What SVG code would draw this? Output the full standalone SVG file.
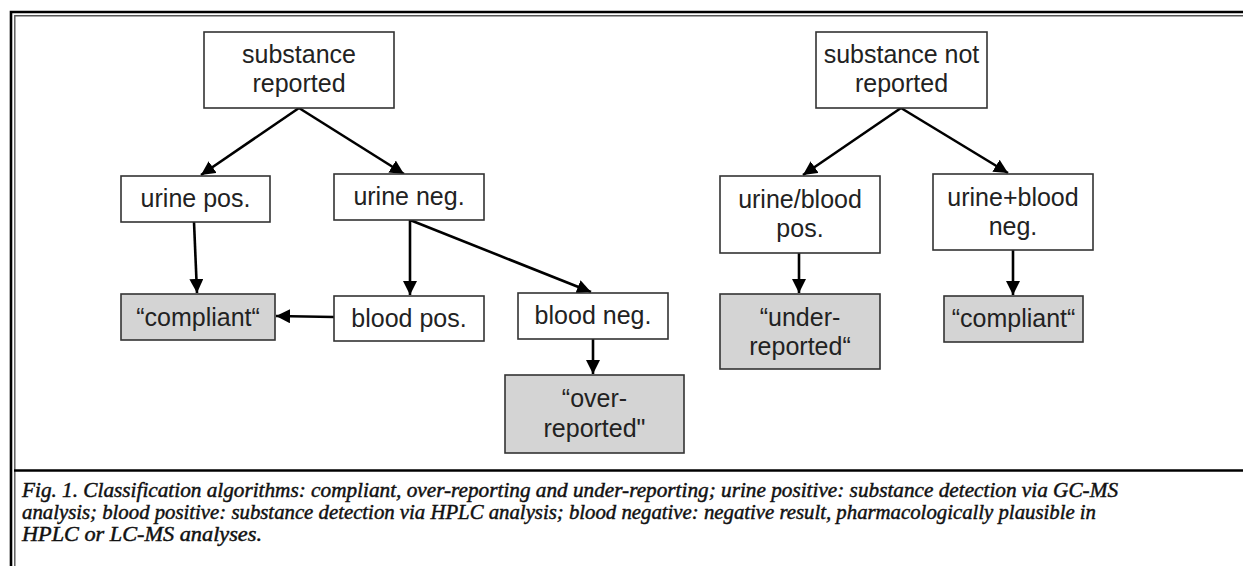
<svg xmlns="http://www.w3.org/2000/svg" width="1243" height="566" viewBox="0 0 1243 566">
<style>
.box{fill:#fff;stroke:#333;stroke-width:1.6}
.res{fill:#d4d4d4;stroke:#333;stroke-width:1.6}
.t{font-family:"Liberation Sans",Arial,sans-serif;font-size:25px;fill:#222;text-anchor:middle}
.c{stroke:#000;stroke-width:2.6;fill:none;marker-end:url(#ah)}
.cap{font-family:"Liberation Serif","Times New Roman",serif;font-style:italic;font-size:20px;fill:#111;stroke:#111;stroke-width:0.45}
</style>
<defs>
<marker id="ah" viewBox="0 0 10 10" refX="10" refY="5" markerWidth="5.4" markerHeight="5.4" orient="auto" markerUnits="strokeWidth">
<path d="M0,0 L10,5 L0,10 z" fill="#000"/>
</marker>
</defs>
<rect x="0" y="0" width="1243" height="566" fill="#fff"/>
<g id="frame" fill="none">
<path d="M11,566 V12 H1243" stroke="#000" stroke-width="2.6"/>
<path d="M14.8,566 V15.8 H1243" stroke="#555" stroke-width="1.4"/>
<path d="M14,470.5 H1243" stroke="#000" stroke-width="2.6"/>
</g>
<g id="connectors">
<line class="c" x1="299" y1="108" x2="201" y2="175"/>
<line class="c" x1="299" y1="108" x2="404" y2="174"/>
<line class="c" x1="194" y1="222" x2="197" y2="293"/>
<line class="c" x1="410" y1="220" x2="410" y2="295"/>
<line class="c" x1="410" y1="220" x2="591" y2="292"/>
<line class="c" x1="334" y1="317" x2="276" y2="316"/>
<line class="c" x1="593" y1="339" x2="593" y2="374"/>
<line class="c" x1="901" y1="108" x2="803" y2="175"/>
<line class="c" x1="901" y1="108" x2="1008" y2="173"/>
<line class="c" x1="799" y1="253" x2="799" y2="293"/>
<line class="c" x1="1013" y1="250" x2="1013" y2="295"/>
</g>
<g id="n1"><rect class="box" x="204" y="32" width="190" height="76"/><text class="t" x="299" y="63">substance</text><text class="t" x="299" y="92">reported</text></g>
<g id="n2"><rect class="box" x="121" y="176" width="149" height="46"/><text class="t" x="195.5" y="207">urine pos.</text></g>
<g id="n3"><rect class="box" x="334" y="174" width="150" height="46"/><text class="t" x="409" y="205">urine neg.</text></g>
<g id="n4"><rect class="res" x="121" y="294" width="154" height="46"/><text class="t" x="198" y="326">“compliant“</text></g>
<g id="n5"><rect class="box" x="334" y="296" width="150" height="45"/><text class="t" x="409" y="327">blood pos.</text></g>
<g id="n6"><rect class="box" x="518" y="293" width="150" height="46"/><text class="t" x="593" y="324">blood neg.</text></g>
<g id="n7"><rect class="res" x="505" y="375" width="179" height="78"/><text class="t" x="594.5" y="407">“over-</text><text class="t" x="594.5" y="437">reported"</text></g>
<g id="n8"><rect class="box" x="816" y="32" width="171" height="76"/><text class="t" x="901.5" y="63">substance not</text><text class="t" x="901.5" y="92">reported</text></g>
<g id="n9"><rect class="box" x="720" y="176" width="160" height="77"/><text class="t" x="800" y="208">urine/blood</text><text class="t" x="800" y="237">pos.</text></g>
<g id="n10"><rect class="box" x="933" y="174" width="160" height="76"/><text class="t" x="1013" y="206">urine+blood</text><text class="t" x="1013" y="235">neg.</text></g>
<g id="n11"><rect class="res" x="720" y="294" width="160" height="75"/><text class="t" x="800" y="326">“under-</text><text class="t" x="800" y="355">reported“</text></g>
<g id="n12"><rect class="res" x="944" y="296" width="139" height="46"/><text class="t" x="1013.5" y="327">“compliant“</text></g>
<g id="caption">
<text class="cap" x="22" y="497" textLength="1096" lengthAdjust="spacingAndGlyphs">Fig. 1. Classification algorithms: compliant, over-reporting and under-reporting; urine positive: substance detection via GC-MS</text>
<text class="cap" x="22" y="519" textLength="1074" lengthAdjust="spacingAndGlyphs">analysis; blood positive: substance detection via HPLC analysis; blood negative: negative result, pharmacologically plausible in</text>
<text class="cap" x="22" y="541" textLength="240" lengthAdjust="spacingAndGlyphs">HPLC or LC-MS analyses.</text>
</g>
</svg>
